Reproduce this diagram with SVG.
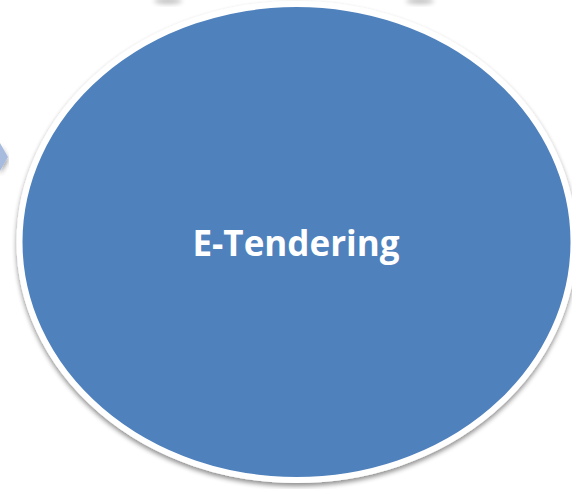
<svg xmlns="http://www.w3.org/2000/svg" width="572" height="489" viewBox="0 0 572 489">
<defs>
<filter id="sh" x="-10%" y="-10%" width="120%" height="125%">
<feGaussianBlur in="SourceAlpha" stdDeviation="2.5"/>
<feOffset dx="0" dy="3" result="b"/>
<feComponentTransfer><feFuncA type="linear" slope="0.45"/></feComponentTransfer>
<feMerge><feMergeNode/><feMergeNode in="SourceGraphic"/></feMerge>
</filter>
<filter id="blur" x="-50%" y="-50%" width="200%" height="200%"><feGaussianBlur stdDeviation="2.5"/></filter>
</defs>
<style>
.lbl{font-family:"Open Sans","Liberation Sans",sans-serif;font-weight:bold;font-size:35px;fill:#ffffff}
</style>
<rect width="572" height="489" fill="#ffffff"/>
<g id="connectors">
<ellipse cx="168" cy="1" rx="14" ry="3" fill="#000" opacity="0.25" filter="url(#blur)"/>
<ellipse cx="420" cy="1" rx="14" ry="3" fill="#000" opacity="0.25" filter="url(#blur)"/>
<polygon points="0,143 8,157 0,171" fill="#a7bbdf" filter="url(#sh)"/>
</g>
<g id="node-etendering">
<ellipse cx="296.5" cy="242" rx="277" ry="238" fill="#4f81bd" stroke="#ffffff" stroke-width="6" filter="url(#sh)"/>
<text class="lbl" x="296" y="256" text-anchor="middle">E-Tendering</text>
</g>
</svg>
